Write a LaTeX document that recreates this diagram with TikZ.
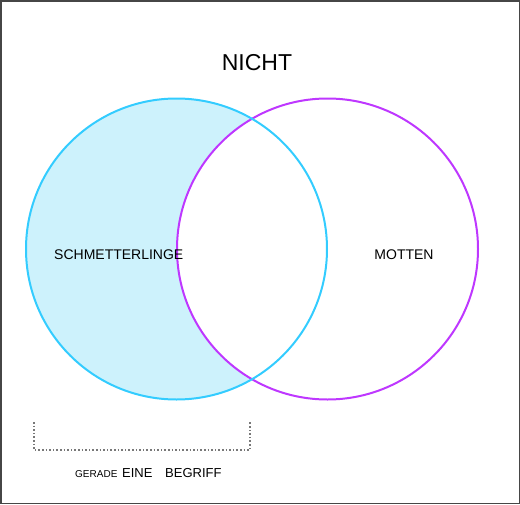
\documentclass[tikz,border=0pt]{standalone}
\usepackage{fontspec}
\setmainfont{Liberation Sans}
\usetikzlibrary{positioning}

\definecolor{butterflyline}{RGB}{51,204,255}
\definecolor{butterflyfill}{RGB}{205,242,252}
\definecolor{mothline}{RGB}{190,55,255}
\definecolor{framegray}{RGB}{70,70,70}
\definecolor{bracketgray}{RGB}{120,120,120}

\begin{document}
\begin{tikzpicture}[
    x=1pt, y=-1pt,
    set/.style={circle, draw, line width=2pt, minimum size=301pt, inner sep=0pt},
    label/.style={font=\fontsize{14}{16}\selectfont, inner sep=0pt},
    bracket/.style={dotted, line width=1.6pt, bracketgray},
    ]
    \useasboundingbox (0,0) rectangle (520,504);
    \draw[framegray, line width=1.5pt] (0.75,0.75) rectangle (519.25,503.25);

    % Shading: butterflies only
    \begin{scope}
        \clip (176.5,249) circle (150.5);
        \fill[butterflyfill, even odd rule] (0,0) rectangle (520,504) (327.5,249) circle (150.5);
    \end{scope}

    % Sets
    \node[set, draw=mothline] (motten) at (327.5,249) {};
    \node[set, draw=butterflyline] (schmetterlinge) at (176.5,249) {};

    % Labels
    \node[font=\fontsize{23}{26}\selectfont, anchor=base, inner sep=0pt] (title) at (257,70) {NICHT};
    \node[label, anchor=base west] (lbutterfly) at (54,259) {SCHMETTERLINGE};
    \node[label, anchor=base] (lmoth) at (404,259) {MOTTEN};

    % Bracket
    \coordinate (bl) at (34,422);
    \coordinate (br) at (250,422);
    \draw[bracket] (bl) -- ++(0,28) -| (br);
    \node[font=\fontsize{10}{12}\selectfont, anchor=base west, inner sep=0pt] (gerade) at (75,477) {GERADE};
    \node[font=\fontsize{13}{15}\selectfont, anchor=base west, inner sep=0pt] (eine) at (122,477) {EINE};
    \node[font=\fontsize{13}{15}\selectfont, anchor=base west, inner sep=0pt] (begriff) at (165,477) {BEGRIFF};
\end{tikzpicture}
\end{document}
